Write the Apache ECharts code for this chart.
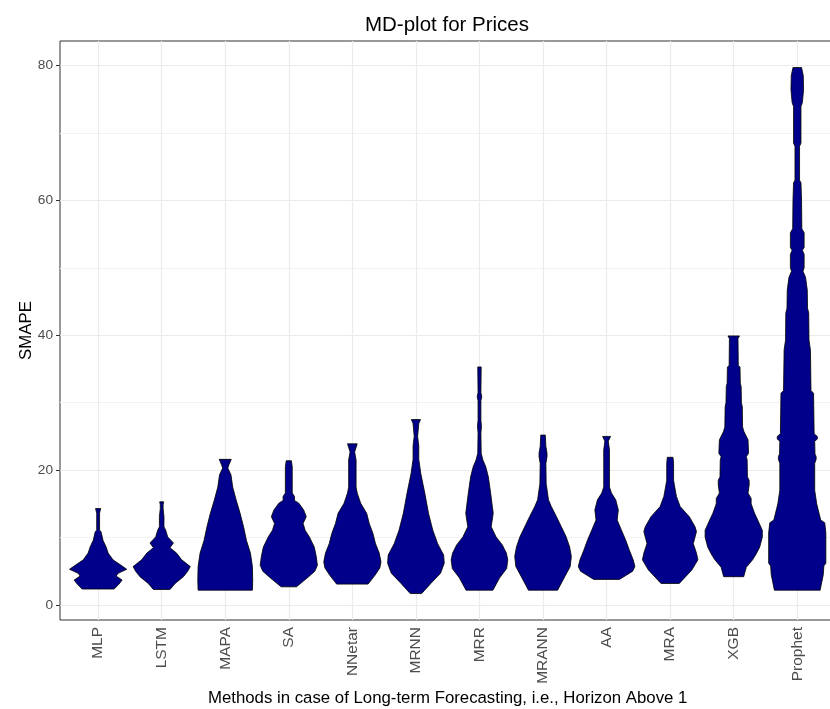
<!DOCTYPE html>
<html>
<head>
<meta charset="utf-8">
<script src="https://cdn.jsdelivr.net/npm/echarts@6/dist/echarts.min.js"></script>
<style>
  html, body { margin: 0; padding: 0; background: #ffffff; }
  #chart { width: 830px; height: 709px; }
</style>
</head>
<body>
<div id="chart"></div>
<script>
// Forecasting methods, in plotting order
const methods = ['MLP', 'LSTM', 'MAPA', 'SA', 'NNetar', 'MRNN', 'MRR', 'MRANN', 'AA', 'MRA', 'XGB', 'Prophet'];

// Mirrored density profiles: [SMAPE, relative density (1 = widest point of that method)]
const mlp = [[2.37, 0.56], [3.1, 0.73], [3.7, 0.84], [4.3, 0.63], [4.7, 0.70], [5.3, 1.0], [5.9, 0.80], [6.7, 0.52], [7.7, 0.35], [8.6, 0.28], [9.6, 0.17], [10.9, 0.10], [11.1, 0.05], [13.6, 0.05], [13.8, 0.06], [14.3, 0.09]];
const lstm = [[2.3, 0.29], [3.2, 0.47], [4.2, 0.76], [5.0, 0.91], [5.7, 1.0], [6.7, 0.70], [7.7, 0.52], [8.5, 0.29], [9.2, 0.41], [10.1, 0.21], [11.1, 0.14], [11.6, 0.08], [13.1, 0.08], [14.3, 0.05], [14.9, 0.05], [15.3, 0.07]];
const mapa = [[2.2, 0.95], [3.7, 0.96], [5.7, 0.95], [7.7, 0.88], [9.6, 0.74], [11.6, 0.64], [13.6, 0.52], [15.6, 0.38], [17.5, 0.26], [19.3, 0.20], [20.3, 0.09], [20.8, 0.13], [21.6, 0.21]];
const sa = [[2.7, 0.27], [4.0, 0.64], [5.0, 0.91], [5.9, 1.0], [7.2, 0.96], [8.6, 0.89], [10.1, 0.72], [11.1, 0.57], [12.1, 0.50], [13.1, 0.61], [14.1, 0.52], [15.1, 0.35], [15.5, 0.20], [16.1, 0.20], [16.6, 0.12], [20.5, 0.12], [21.4, 0.09]];
const nnetar = [[3.1, 0.55], [4.4, 0.79], [5.5, 0.96], [6.4, 1.0], [7.7, 0.94], [9.1, 0.81], [10.6, 0.72], [12.1, 0.59], [13.6, 0.50], [15.1, 0.29], [16.6, 0.17], [17.5, 0.13], [21.5, 0.13], [22.7, 0.08], [23.9, 0.17]];
const mrnn = [[1.7, 0.20], [3.2, 0.52], [4.7, 0.86], [6.2, 0.99], [7.4, 0.97], [9.1, 0.76], [11.1, 0.59], [13.6, 0.44], [16.6, 0.31], [19.5, 0.17], [21.6, 0.10], [23.6, 0.10], [25.0, 0.06], [26.9, 0.10], [27.5, 0.16]];
const mrr = [[2.2, 0.47], [4.0, 0.70], [5.4, 0.95], [6.7, 0.99], [7.7, 0.94], [8.9, 0.80], [10.1, 0.58], [11.6, 0.41], [13.6, 0.48], [14.6, 0.45], [16.6, 0.39], [19.0, 0.31], [20.5, 0.22], [21.5, 0.12], [22.5, 0.06], [25.5, 0.05], [26.5, 0.07], [27.4, 0.05], [30.3, 0.05], [30.9, 0.08], [31.5, 0.05], [35.3, 0.06]];
const mrann = [[2.2, 0.51], [4.2, 0.76], [5.7, 0.95], [7.2, 0.99], [8.6, 0.93], [10.1, 0.81], [11.6, 0.64], [13.1, 0.47], [14.6, 0.29], [15.6, 0.19], [18.0, 0.11], [21.0, 0.10], [22.0, 0.14], [22.5, 0.14], [23.5, 0.10], [25.2, 0.08]];
const aa = [[3.8, 0.45], [5.0, 0.91], [5.7, 0.99], [6.7, 0.93], [8.2, 0.79], [9.6, 0.67], [11.1, 0.52], [12.6, 0.37], [14.1, 0.41], [15.6, 0.32], [16.6, 0.17], [17.5, 0.10], [23.0, 0.10], [24.3, 0.06], [25.0, 0.14]];
const mra = [[3.2, 0.32], [5.2, 0.76], [6.7, 0.97], [7.7, 0.92], [9.1, 0.81], [10.9, 0.92], [11.6, 0.87], [13.1, 0.67], [14.6, 0.35], [16.1, 0.22], [17.5, 0.16], [18.5, 0.12], [21.0, 0.12], [21.9, 0.10]];
const xgb = [[4.2, 0.35], [5.6, 0.44], [6.7, 0.66], [7.6, 0.79], [8.6, 0.91], [10.1, 1.0], [11.1, 1.0], [12.6, 0.84], [13.6, 0.73], [15.0, 0.61], [15.8, 0.61], [16.6, 0.50], [17.8, 0.54], [18.5, 0.54], [19.0, 0.48], [21.5, 0.47], [22.0, 0.44], [22.5, 0.52], [24.5, 0.50], [25.7, 0.36], [26.4, 0.31], [29.4, 0.30], [30.0, 0.27], [32.4, 0.26], [32.9, 0.23], [35.3, 0.22], [35.5, 0.16], [39.5, 0.15], [39.9, 0.20]];
const prophet = [[2.2, 0.80], [4.5, 0.91], [5.8, 0.93], [6.2, 1.0], [10.7, 1.0], [12.2, 0.96], [12.6, 0.82], [15.0, 0.68], [17.0, 0.61], [21.0, 0.61], [21.6, 0.66], [22.0, 0.66], [22.4, 0.62], [24.3, 0.61], [24.6, 0.70], [25.0, 0.70], [25.4, 0.59], [31.4, 0.57], [31.8, 0.48], [37.8, 0.46], [39.3, 0.41], [43.3, 0.40], [44.0, 0.36], [46.7, 0.35], [48.6, 0.29], [49.5, 0.20], [50.0, 0.24], [52.0, 0.24], [52.6, 0.18], [53.0, 0.24], [55.2, 0.24], [55.8, 0.16], [60.0, 0.15], [62.6, 0.13], [63.0, 0.08], [68.0, 0.08], [68.5, 0.13], [73.9, 0.13], [74.5, 0.18], [76.4, 0.22], [78.5, 0.21], [79.7, 0.15]];

const profiles = [mlp, lstm, mapa, sa, nnetar, mrnn, mrr, mrann, aa, mra, xgb, prophet];

// Axis ticks and grid values
const yMajorTicks = [0, 20, 40, 60, 80];
const yMinorTicks = [10, 30, 50, 70];
const xPositions = methods.map((m, i) => i + 1);

const FONT = "'Liberation Sans', Arial, sans-serif";
const HALF_WIDTH = 0.45;   // half of the 0.9 violin width, in category units
const GRID_COLOR = '#EBEBEB';

const chart = echarts.init(document.getElementById('chart'), null, { renderer: 'canvas' });

function renderViolin(params, api) {
  const pos = api.value(0);
  const prof = profiles[pos - 1];
  const rightSide = prof.map(p => api.coord([pos + p[1] * HALF_WIDTH, p[0]]));
  const leftSide = prof.slice().reverse().map(p => api.coord([pos - p[1] * HALF_WIDTH, p[0]]));
  return {
    type: 'polygon',
    shape: { points: rightSide.concat(leftSide) },
    style: { fill: '#00008B', stroke: '#000000', lineWidth: 0.8 }
  };
}

const gridLines = []
  .concat(yMinorTicks.map(v => ({ yAxis: v, lineStyle: { color: '#F2F2F2', width: 1, type: 'solid' } })))
  .concat(yMajorTicks.map(v => ({ yAxis: v, lineStyle: { color: GRID_COLOR, width: 1.2, type: 'solid' } })))
  .concat(xPositions.map(v => ({ xAxis: v, lineStyle: { color: GRID_COLOR, width: 1.2, type: 'solid' } })));

const option = {
  animation: false,
  backgroundColor: '#ffffff',
  title: {
    text: 'MD-plot for Prices',
    left: 442,
    textAlign: 'center',
    top: 10,
    textStyle: { fontFamily: FONT, fontSize: 20.5, fontWeight: 'normal', color: '#000000' }
  },
  grid: {
    left: 60, top: 41, width: 775.4, height: 579,
    outerBoundsMode: 'none',
    containLabel: false,
    show: true, borderColor: '#333333', borderWidth: 1, backgroundColor: 'transparent'
  },
  xAxis: {
    type: 'value',
    min: 0.4, max: 12.6,
    name: 'Methods in case of Long-term Forecasting, i.e., Horizon Above 1',
    nameLocation: 'middle',
    nameGap: 70,
    nameMoveOverlap: false,
    nameTextStyle: { fontFamily: FONT, fontSize: 16.8, color: '#000000' },
    axisLine: { show: false },
    axisTick: { show: true, length: 4, lineStyle: { color: '#333333' }, customValues: xPositions },
    axisLabel: {
      customValues: xPositions,
      rotate: 90,
      margin: 7,
      fontFamily: FONT, fontSize: 15.5, color: '#4D4D4D',
      formatter: v => methods[Math.round(v) - 1]
    },
    splitLine: { show: false }
  },
  yAxis: {
    type: 'value',
    min: -2.22, max: 83.63,
    name: 'SMAPE',
    nameLocation: 'middle',
    nameRotate: 90,
    nameGap: 25,
    nameMoveOverlap: false,
    nameTextStyle: { fontFamily: FONT, fontSize: 16.8, color: '#000000' },
    axisLine: { show: false },
    axisTick: { show: true, length: 4, lineStyle: { color: '#333333' }, customValues: yMajorTicks },
    axisLabel: {
      customValues: yMajorTicks,
      margin: 7,
      fontFamily: FONT, fontSize: 13.7, color: '#4D4D4D'
    },
    splitLine: { show: false }
  },
  series: [
    {
      type: 'custom',
      name: 'grid',
      data: [],
      z: 1,
      silent: true,
      renderItem: () => null,
      markLine: {
        silent: true,
        z: 1,
        symbol: ['none', 'none'],
        label: { show: false },
        emphasis: { disabled: true },
        animation: false,
        data: gridLines
      }
    },
    {
      type: 'custom',
      name: 'MD-plot',
      z: 3,
      silent: true,
      renderItem: renderViolin,
      encode: { x: 0, y: 1 },
      data: xPositions.map((p, i) => [p, profiles[i][profiles[i].length - 1][0]])
    }
  ]
};

chart.setOption(option);
</script>
</body>
</html>
